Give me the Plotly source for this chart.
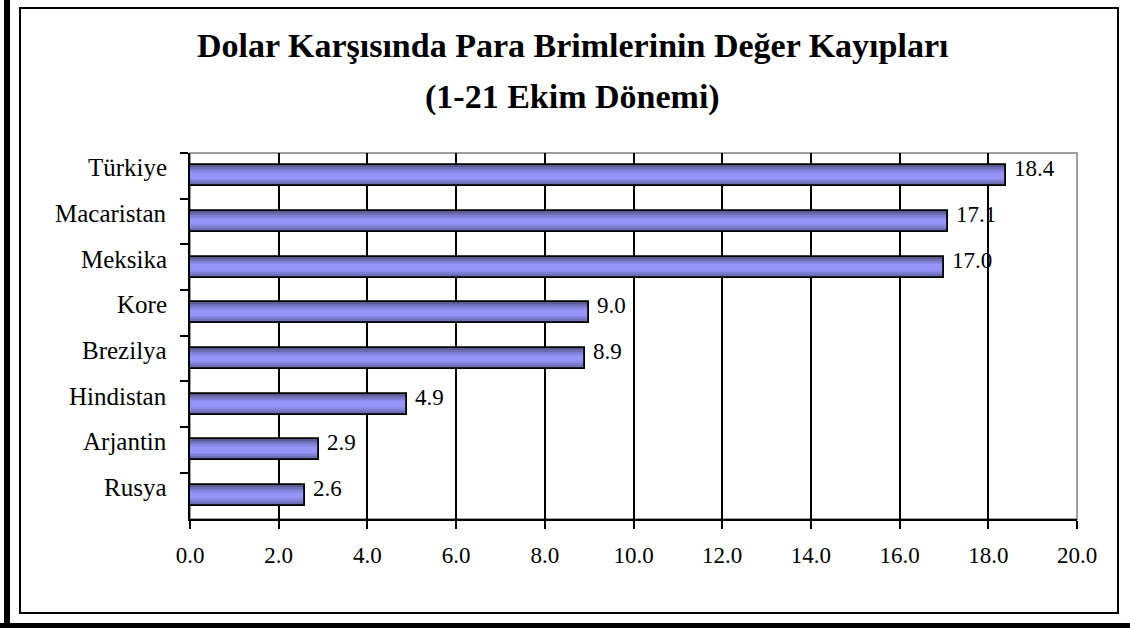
import plotly.graph_objects as go

categories = ["Türkiye", "Macaristan", "Meksika", "Kore", "Brezilya", "Hindistan", "Arjantin", "Rusya"]
values = [18.4, 17.1, 17.0, 9.0, 8.9, 4.9, 2.9, 2.6]
x_ticks = [0, 2, 4, 6, 8, 10, 12, 14, 16, 18, 20]
title_line1 = "Dolar Karşısında Para Brimlerinin Değer Kayıpları"
title_line2 = "(1-21 Ekim Dönemi)"

W, H = 1130, 628
FONT = "Liberation Serif"

# plot area in pixels
px_left, px_right, px_top, px_bottom = 190, 1077, 153, 519

fig = go.Figure()

# gradient bar layers: dark edges -> light center
bar_w = 0.46
layers = [(1.00, "#5c5c94"), (0.80, "#6e6eb4"), (0.62, "#7e7ed2"), (0.44, "#8b8be8"), (0.26, "#9595f8")]
for frac, col in layers:
    fig.add_trace(go.Bar(
        x=values, y=categories, orientation="h",
        width=bar_w * frac, marker=dict(color=col, line=dict(width=0)),
        hoverinfo="skip", showlegend=False,
    ))
# outline
fig.add_trace(go.Bar(
    x=values, y=categories, orientation="h", width=bar_w,
    marker=dict(color="rgba(0,0,0,0)", line=dict(color="black", width=1.8)),
    showlegend=False,
))

# data labels
for c, v in zip(categories, values):
    fig.add_annotation(x=v, y=c, xref="x", yref="y", text=f"{v:.1f}",
                       xanchor="left", yanchor="middle", xshift=6, yshift=7,
                       showarrow=False, font=dict(family=FONT, size=23, color="black"))
# category labels
for c in categories:
    fig.add_annotation(x=px_left / W, y=c, xref="paper", yref="y", text=c,
                       xanchor="right", yanchor="middle", xshift=-21, yshift=8,
                       showarrow=False, font=dict(family=FONT, size=25, color="black"))

# titles
fig.add_annotation(x=572 / W, y=1 - 46 / H, xref="paper", yref="paper", text=f"<b>{title_line1}</b>",
                   showarrow=False, xanchor="center", yanchor="middle",
                   font=dict(family=FONT, size=34, color="black"))
fig.add_annotation(x=572 / W, y=1 - 97 / H, xref="paper", yref="paper", text=f"<b>{title_line2}</b>",
                   showarrow=False, xanchor="center", yanchor="middle",
                   font=dict(family=FONT, size=34, color="black"))

shapes = [
    # plot area gray border
    dict(type="rect", xref="paper", yref="paper", x0=px_left / W, x1=px_right / W,
         y0=1 - px_bottom / H, y1=1 - px_top / H, line=dict(color="#808080", width=1.5), layer="below"),
    # inner frame
    dict(type="rect", xref="paper", yref="paper", x0=20 / W, x1=1118 / W, y0=1 - 613 / H, y1=1 - 8 / H,
         line=dict(color="black", width=2)),
    # thick left edge
    dict(type="rect", xref="paper", yref="paper", x0=4 / W, x1=10 / W, y0=0, y1=1,
         fillcolor="black", line=dict(width=0)),
    # thick bottom edge
    dict(type="rect", xref="paper", yref="paper", x0=0, x1=1, y0=0, y1=1 - 623 / H,
         fillcolor="black", line=dict(width=0)),
]

fig.update_layout(
    template="none",
    width=W, height=H, margin=dict(l=0, r=0, t=0, b=0, pad=0), autosize=False,
    paper_bgcolor="white", plot_bgcolor="white",
    barmode="overlay", bargap=0, showlegend=False,
    shapes=shapes,
    font=dict(family=FONT, color="black"),
    xaxis=dict(domain=[px_left / W, px_right / W], range=[0, 20], tickvals=x_ticks,
               ticktext=[f"{t:.1f}" for t in x_ticks], automargin=False,
               showgrid=True, gridcolor="black", gridwidth=1.7,
               showline=True, linecolor="black", linewidth=1.8,
               ticks="outside", ticklen=8, tickwidth=1.8, tickcolor="black",
               tickfont=dict(family=FONT, size=23, color="black"),
               ticklabelstandoff=6, zeroline=False, fixedrange=True),
    yaxis=dict(domain=[1 - px_bottom / H, 1 - px_top / H], categoryorder="array",
               categoryarray=categories, autorange="reversed", automargin=False,
               showticklabels=False, tickson="boundaries",
               showline=True, linecolor="black", linewidth=1.8,
               ticks="outside", ticklen=8, tickwidth=1.8, tickcolor="black",
               showgrid=False, zeroline=False, fixedrange=True),
)

fig.write_html(
    "out.html",
    config={"displayModeBar": False},
    post_script="document.body.style.margin='0';document.body.style.overflow='hidden';",
)
